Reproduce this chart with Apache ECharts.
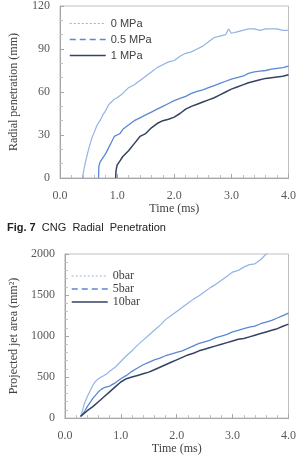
<!DOCTYPE html>
<html>
<head>
<meta charset="utf-8">
<script src="https://cdn.jsdelivr.net/npm/echarts@6/dist/echarts.min.js"></script>
<style>
  html, body { margin: 0; padding: 0; background: #fff; }
  #chart { width: 299px; height: 456px; }
</style>
</head>
<body>
<div id="chart"></div>
<script>
// Fig. 7 - radial penetration (mm) vs time (ms)
var radT0 = [0.39, 0.45, 0.5, 0.55, 0.6, 0.65, 0.7, 0.75, 0.8, 0.85, 0.9, 0.95, 1.0, 1.1, 1.2, 1.3, 1.4, 1.5, 1.6, 1.7, 1.8, 1.9, 2.0, 2.1, 2.2, 2.3, 2.4, 2.5, 2.6, 2.7, 2.8, 2.9, 2.95, 3.0, 3.1, 3.2, 3.3, 3.4, 3.5, 3.6, 3.7, 3.8, 3.9, 4.0]
var rad0MPa = [0, 12, 20, 27, 32, 37, 40, 44, 47, 51, 53, 55, 56, 59, 63, 65, 68, 71, 74, 77, 79, 81, 82, 85, 87, 88, 90, 92, 95, 98, 99, 100, 104, 101, 102, 103, 104, 104, 103, 104, 104, 104, 103, 103]
var radT05 = [0.675, 0.68, 0.7, 0.75, 0.8, 0.85, 0.9, 0.95, 1.0, 1.05, 1.1, 1.2, 1.3, 1.4, 1.5, 1.6, 1.7, 1.8, 1.9, 2.0, 2.1, 2.2, 2.3, 2.4, 2.5, 2.6, 2.7, 2.8, 2.9, 3.0, 3.1, 3.2, 3.3, 3.4, 3.5, 3.6, 3.7, 3.8, 3.9, 4.0]
var rad05MPa = [0, 8, 11, 14, 17, 21, 25, 29, 30, 31, 34, 37, 40, 42, 44, 46, 48, 50, 52, 54, 55.5, 57, 59, 60.5, 61.5, 63, 64.5, 66, 67.5, 69, 70, 71, 73, 74, 74.5, 75, 76, 76.5, 77, 78]
var radT1 = [0.975, 0.98, 1.0, 1.05, 1.1, 1.2, 1.3, 1.4, 1.5, 1.6, 1.7, 1.8, 1.9, 2.0, 2.1, 2.2, 2.3, 2.4, 2.5, 2.6, 2.7, 2.8, 2.9, 3.0, 3.1, 3.2, 3.3, 3.4, 3.5, 3.6, 3.7, 3.8, 3.9, 4.0]
var rad1MPa = [0, 5, 9, 12, 15, 19, 24, 29, 31, 35, 38, 40, 41, 42.5, 45, 48, 50, 51.5, 53, 54.5, 56, 58, 60, 62, 63.5, 65, 66.5, 67.5, 68.5, 69.5, 70, 70.5, 71, 72]

// projected jet area (mm2) vs time (ms)
var areaT0 = [0.28, 0.3, 0.35, 0.4, 0.45, 0.5, 0.55, 0.6, 0.65, 0.7, 0.75, 0.8, 0.9, 1.0, 1.1, 1.2, 1.3, 1.4, 1.5, 1.6, 1.7, 1.8, 1.9, 2.0, 2.1, 2.2, 2.3, 2.4, 2.5, 2.6, 2.7, 2.8, 2.9, 3.0, 3.1, 3.2, 3.3, 3.4, 3.5, 3.6, 3.7, 3.8, 3.9, 4.0]
var area0bar = [20, 60, 180, 260, 330, 400, 450, 480, 500, 520, 540, 570, 620, 690, 760, 820, 890, 950, 1010, 1070, 1130, 1200, 1250, 1300, 1350, 1400, 1450, 1490, 1540, 1590, 1630, 1680, 1730, 1780, 1800, 1840, 1870, 1880, 1930, 2000, 2060, 2120, 2180, 2240]
var areaT5 = [0.28, 0.35, 0.4, 0.45, 0.5, 0.55, 0.6, 0.65, 0.7, 0.75, 0.8, 0.9, 1.0, 1.1, 1.2, 1.3, 1.4, 1.5, 1.6, 1.7, 1.8, 1.9, 2.0, 2.1, 2.2, 2.3, 2.4, 2.5, 2.6, 2.7, 2.8, 2.9, 3.0, 3.1, 3.2, 3.3, 3.4, 3.5, 3.6, 3.7, 3.8, 3.9, 4.0]
var area5bar = [20, 80, 140, 190, 240, 280, 320, 350, 370, 380, 390, 430, 480, 520, 570, 610, 650, 680, 710, 730, 760, 780, 800, 820, 850, 880, 910, 930, 950, 980, 1000, 1020, 1050, 1070, 1090, 1110, 1120, 1150, 1170, 1190, 1220, 1250, 1280]
var areaT10 = [0.28, 0.35, 0.4, 0.5, 0.6, 0.7, 0.8, 0.9, 1.0, 1.1, 1.2, 1.3, 1.4, 1.5, 1.6, 1.7, 1.8, 1.9, 2.0, 2.1, 2.2, 2.3, 2.4, 2.5, 2.6, 2.7, 2.8, 2.9, 3.0, 3.1, 3.2, 3.3, 3.4, 3.5, 3.6, 3.7, 3.8, 3.9, 4.0]
var area10bar = [20, 60, 90, 140, 200, 260, 320, 380, 440, 480, 500, 520, 540, 560, 590, 620, 650, 680, 710, 740, 770, 790, 820, 840, 860, 880, 900, 920, 940, 960, 970, 990, 1010, 1030, 1050, 1070, 1090, 1120, 1145]

var timeTicks = [0, 1, 2, 3, 4]
var radTicks = [0, 30, 60, 90, 120]
var areaTicks = [0, 500, 1000, 1500, 2000]

var cLight = '#93b4e4'
var cMid = '#5b88d2'
var cDark = '#34435f'

function pairs(ts, vs) {
  return ts.map(function (t, i) { return [t, vs[i]] })
}

function xAxisOf(gridIndex, gap) {
  return {
    gridIndex: gridIndex,
    type: 'value',
    min: timeTicks[0],
    max: timeTicks[timeTicks.length - 1],
    interval: 1,
    name: 'Time (ms)',
    nameLocation: 'middle',
    nameGap: gap,
    nameTextStyle: { fontFamily: 'Liberation Serif', fontSize: 12, color: '#404040' },
    axisLine: { lineStyle: { color: '#a6a6a6' } },
    axisTick: { inside: true, length: 4, lineStyle: { color: '#a6a6a6' } },
    minorTick: { show: true, splitNumber: 5, length: 3, lineStyle: { color: '#bfbfbf' } },
    splitLine: { show: false },
    axisLabel: {
      margin: 12,
      fontFamily: 'Liberation Serif',
      fontSize: 12,
      color: '#595959',
      formatter: function (v) { return v.toFixed(1) }
    }
  }
}

function yAxisOf(gridIndex, ticks, name, minorSplit) {
  return {
    gridIndex: gridIndex,
    type: 'value',
    min: ticks[0],
    max: ticks[ticks.length - 1],
    interval: ticks[1] - ticks[0],
    name: name,
    nameLocation: 'middle',
    nameGap: 40,
    nameTextStyle: { fontFamily: 'Liberation Serif', fontSize: 12, color: '#404040' },
    axisLine: { show: true, lineStyle: { color: '#a6a6a6' } },
    axisTick: { show: true, inside: true, length: 4, lineStyle: { color: '#a6a6a6' } },
    minorTick: { show: true, splitNumber: minorSplit, length: 3, lineStyle: { color: '#bfbfbf' } },
    splitLine: { show: false },
    axisLabel: {
      margin: 10,
      fontFamily: 'Liberation Serif',
      fontSize: 12,
      color: '#595959',
      formatter: function (v) { return String(v) }
    }
  }
}

function lineSeries(name, idx, data, color, width) {
  return {
    name: name,
    type: 'line',
    xAxisIndex: idx,
    yAxisIndex: idx,
    data: data,
    symbol: 'none',
    animation: false,
    lineStyle: { color: color, width: width },
    itemStyle: { color: color }
  }
}

var chart = echarts.init(document.getElementById('chart'))
chart.setOption({
  backgroundColor: '#fff',
  title: {
    left: 2,
    top: 217,
    text: '{b|Fig. 7}  CNG  Radial  Penetration',
    textStyle: {
      fontFamily: 'Liberation Sans',
      fontSize: 11,
      fontWeight: 'normal',
      color: '#222',
      rich: { b: { fontFamily: 'Liberation Sans', fontSize: 11, fontWeight: 'bold', color: '#222' } }
    }
  },
  grid: [
    { left: 47, right: 7, top: 1, height: 177, show: true, borderColor: '#bfbfbf', borderWidth: 1 },
    { left: 50, right: 7, top: 254, height: 178, show: true, borderColor: '#bfbfbf', borderWidth: 1 }
  ],
  legend: [
    {
      orient: 'vertical',
      left: 64,
      top: 13,
      itemWidth: 36,
      itemHeight: 10,
      itemGap: 5,
      itemStyle: { opacity: 0 },
      textStyle: { fontFamily: 'Liberation Sans', fontSize: 11, color: '#404040' },
      data: [
        { name: '0 MPa', lineStyle: { type: [2, 2], width: 1.2, color: cLight } },
        { name: '0.5 MPa', lineStyle: { type: [6, 4], width: 1.5, color: cMid } },
        { name: '1 MPa', lineStyle: { type: 'solid', width: 1.5, color: cDark } }
      ]
    },
    {
      orient: 'vertical',
      left: 66,
      top: 265,
      itemWidth: 36,
      itemHeight: 10,
      itemGap: 1,
      itemStyle: { opacity: 0 },
      textStyle: { fontFamily: 'Liberation Serif', fontSize: 12, color: '#404040' },
      data: [
        { name: '0bar', lineStyle: { type: [2, 2], width: 1.2, color: cLight } },
        { name: '5bar', lineStyle: { type: [6, 4], width: 1.5, color: cMid } },
        { name: '10bar', lineStyle: { type: 'solid', width: 1.5, color: cDark } }
      ]
    }
  ],
  xAxis: [xAxisOf(0, 19), xAxisOf(1, 21)],
  yAxis: [
    yAxisOf(0, radTicks, 'Radial penetration (mm)', 3),
    yAxisOf(1, areaTicks, 'Projected jet area (mm²)', 5)
  ],
  series: [
    lineSeries('0 MPa', 0, pairs(radT0, rad0MPa), cLight, 1.2),
    lineSeries('0.5 MPa', 0, pairs(radT05, rad05MPa), cMid, 1.3),
    lineSeries('1 MPa', 0, pairs(radT1, rad1MPa), cDark, 1.5),
    lineSeries('0bar', 1, pairs(areaT0, area0bar), cLight, 1.2),
    lineSeries('5bar', 1, pairs(areaT5, area5bar), cMid, 1.3),
    lineSeries('10bar', 1, pairs(areaT10, area10bar), cDark, 1.5)
  ]
})
</script>
</body>
</html>
